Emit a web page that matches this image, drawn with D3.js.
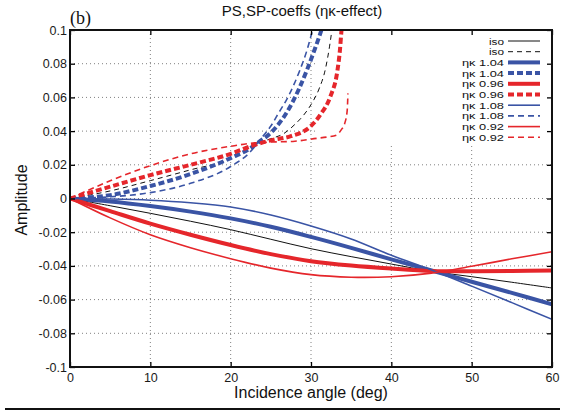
<!DOCTYPE html>
<html>
<head>
<meta charset="utf-8">
<script src="https://cdn.jsdelivr.net/npm/d3@7"></script>
<style>
  body { margin: 0; background: #fff; }
  svg { display: block; font-family: "Liberation Sans", Arial, sans-serif; }
</style>
</head>
<body>
<svg id="chart" width="565" height="412"></svg>
<script>
// angles for the solid (PS) curves, deg
const solidAngles = [0, 5, 10, 15, 20, 25, 30, 35, 40, 45, 50, 55, 60];

const isoSolid     = [0, -0.0043, -0.0088, -0.0135, -0.0185, -0.0242, -0.0298, -0.0345, -0.0389, -0.0432, -0.0464, -0.0497, -0.0531];
const eta104Solid  = [0, -0.0018, -0.0045, -0.0078, -0.0118, -0.0168, -0.0228, -0.0293, -0.0361, -0.0427, -0.0494, -0.0560, -0.0628];
const eta096Solid  = [0, -0.0075, -0.0149, -0.0215, -0.0276, -0.0330, -0.0372, -0.0398, -0.0416, -0.0430, -0.0432, -0.0430, -0.0428];
const eta108Solid  = [0, -0.0003, -0.0010, -0.0025, -0.0050, -0.0098, -0.0163, -0.0240, -0.0337, -0.0424, -0.0520, -0.0618, -0.0717];
const eta092Solid  = [0, -0.0115, -0.0215, -0.0292, -0.0357, -0.0413, -0.0452, -0.0467, -0.0464, -0.0443, -0.0402, -0.0358, -0.0316];

// dashed (SP) curves, each with its own angles since they blow up near 30 deg
const isoDashAngles    = [0, 5, 10, 15, 20, 23.5, 25, 26.6, 28, 29, 30.1, 31, 31.8, 32.3, 32.6, 32.8];
const isoDash          = [0, 0.0045, 0.0106, 0.017, 0.0235, 0.033, 0.0355, 0.0385, 0.044, 0.049, 0.0565, 0.065, 0.077, 0.09, 0.1, 0.108];
const eta104DashAngles = [0, 5, 10, 15, 20, 22.5, 23.5, 25, 27.4, 28.5, 29.5, 30.5, 31.3, 31.8];
const eta104Dash       = [0, 0.002, 0.0074, 0.0145, 0.024, 0.03, 0.0335, 0.039, 0.0545, 0.065, 0.0763, 0.089, 0.1, 0.108];
const eta096DashAngles = [0, 5, 10, 15, 20, 22.5, 25, 27.5, 29.9, 31.2, 32.4, 33.3, 33.6, 33.8, 33.9];
const eta096Dash       = [0, 0.007, 0.0139, 0.02, 0.0265, 0.031, 0.0345, 0.037, 0.0426, 0.05, 0.0604, 0.0763, 0.088, 0.1, 0.105];
const eta108DashAngles = [0, 5, 10, 15, 20, 22.5, 23.5, 25, 26, 27, 28, 28.6, 29.5, 30.2, 30.8];
const eta108Dash       = [0, 0.001, 0.0035, 0.009, 0.019, 0.028, 0.034, 0.043, 0.051, 0.059, 0.069, 0.076, 0.088, 0.1, 0.11];
const eta092DashAngles = [0, 5, 10, 15, 20, 23, 25, 28, 30.7, 32, 33.2, 33.8, 34.2, 34.5, 34.6];
const eta092Dash       = [0, 0.0105, 0.0195, 0.0265, 0.031, 0.033, 0.0335, 0.034, 0.0357, 0.0365, 0.0377, 0.041, 0.0446, 0.052, 0.0624];

const xTicks = [0, 10, 20, 30, 40, 50, 60];
const yTicks = [-0.1, -0.08, -0.06, -0.04, -0.02, 0, 0.02, 0.04, 0.06, 0.08, 0.1];

const BLUE = "#3a54a5";
const RED = "#e5262b";

function zip(xs, ys) {
    return xs.map((x, i) => [x, ys[i]]);
}

// legend order = draw order
const series = [
    { label: "iso",     pts: zip(solidAngles, isoSolid),           color: "#111", width: 1,   dash: null,  smooth: true },
    { label: "iso",     pts: zip(isoDashAngles, isoDash),          color: "#111", width: 1,   dash: "5,4" },
    { label: "ηκ 1.04", pts: zip(solidAngles, eta104Solid),        color: BLUE,   width: 4,   dash: null,  smooth: true },
    { label: "ηκ 1.04", pts: zip(eta104DashAngles, eta104Dash),    color: BLUE,   width: 4,   dash: "6,3" },
    { label: "ηκ 0.96", pts: zip(solidAngles, eta096Solid),        color: RED,    width: 4,   dash: null,  smooth: true },
    { label: "ηκ 0.96", pts: zip(eta096DashAngles, eta096Dash),    color: RED,    width: 4,   dash: "6,3" },
    { label: "ηκ 1.08", pts: zip(solidAngles, eta108Solid),        color: BLUE,   width: 1.6, dash: null,  smooth: true },
    { label: "ηκ 1.08", pts: zip(eta108DashAngles, eta108Dash),    color: BLUE,   width: 1.6, dash: "6,4" },
    { label: "ηκ 0.92", pts: zip(solidAngles, eta092Solid),        color: RED,    width: 1.6, dash: null,  smooth: true },
    { label: "ηκ 0.92", pts: zip(eta092DashAngles, eta092Dash),    color: RED,    width: 1.6, dash: "6,4" }
];

function drawChart() {
    const left = 70, right = 552, top = 30, bottom = 367;
    const svg = d3.select("#chart");

    const x = d3.scaleLinear().domain([0, 60]).range([left, right]);
    const y = d3.scaleLinear().domain([-0.1, 0.1]).range([bottom, top]);

    const fmt = d => String(+d.toFixed(2));

    //сетка
    const grid = svg.append("g")
        .attr("stroke", "#808080")
        .attr("stroke-width", 1)
        .attr("stroke-dasharray", "1,3");
    grid.selectAll(".vg")
        .data(xTicks.slice(1, -1))
        .enter().append("line")
        .attr("x1", d => x(d)).attr("x2", d => x(d))
        .attr("y1", top).attr("y2", bottom);
    grid.selectAll(".hg")
        .data(yTicks.slice(1, -1))
        .enter().append("line")
        .attr("x1", left).attr("x2", right)
        .attr("y1", d => y(d)).attr("y2", d => y(d));

    // opaque key area hides the grid
    svg.append("rect")
        .attr("x", 318).attr("y", top + 1)
        .attr("width", right - 319).attr("height", 114)
        .attr("fill", "#fff");

    //кривые
    svg.append("clipPath").attr("id", "plot-clip")
        .append("rect")
        .attr("x", left).attr("y", top)
        .attr("width", right - left).attr("height", bottom - top);

    const lineSmooth = d3.line()
        .x(d => x(d[0]))
        .y(d => y(d[1]))
        .curve(d3.curveCatmullRom.alpha(0.5));
    const lineSteep = d3.line()
        .x(d => x(d[0]))
        .y(d => y(d[1]))
        .curve(d3.curveMonotoneX);

    svg.append("g")
        .attr("clip-path", "url(#plot-clip)")
        .selectAll("path")
        .data(series)
        .enter().append("path")
        .attr("d", d => d.smooth ? lineSmooth(d.pts) : lineSteep(d.pts))
        .attr("fill", "none")
        .attr("stroke", d => d.color)
        .attr("stroke-width", d => d.width)
        .attr("stroke-dasharray", d => d.dash);

    //оси
    const axisStyle = g => {
        g.select(".domain").remove();
        g.selectAll("line").attr("stroke", "#000").attr("stroke-width", 1.3);
        g.selectAll("text")
            .style("font-size", "12.5px")
            .style("fill", "#1a1a1a")
            .style("font-family", "'Liberation Sans', Arial, sans-serif");
    };

    svg.append("g")
        .attr("transform", `translate(${left},0)`)
        .call(d3.axisLeft(y).tickValues(yTicks).tickSize(-5).tickPadding(3).tickFormat(fmt))
        .call(axisStyle);

    svg.append("g")
        .attr("transform", `translate(${right},0)`)
        .call(d3.axisRight(y).tickValues(yTicks).tickSize(-5).tickFormat(""))
        .call(axisStyle);

    svg.append("g")
        .attr("transform", `translate(0,${bottom})`)
        .call(d3.axisBottom(x).tickValues(xTicks).tickSize(-5).tickPadding(6).tickFormat(fmt))
        .call(axisStyle);

    svg.append("g")
        .attr("transform", `translate(0,${top})`)
        .call(d3.axisTop(x).tickValues(xTicks).tickSize(-5).tickFormat(""))
        .call(axisStyle);

    // рамка
    svg.append("rect")
        .attr("x", left).attr("y", top)
        .attr("width", right - left).attr("height", bottom - top)
        .attr("fill", "none")
        .attr("stroke", "#111")
        .attr("stroke-width", 2);

    //легенда (tight rows, so a small font stretched to the original width)
    const key = svg.append("g");
    const rowY = i => 41 + i * 10.7;
    key.selectAll("text")
        .data(series)
        .enter().append("text")
        .attr("x", 504)
        .attr("y", (d, i) => rowY(i))
        .attr("dy", "0.37em")
        .attr("text-anchor", "end")
        .attr("textLength", d => d.label === "iso" ? 15 : 42)
        .attr("lengthAdjust", "spacingAndGlyphs")
        .style("font-size", "9.6px")
        .style("fill", "#111")
        .text(d => d.label);
    key.selectAll("line")
        .data(series)
        .enter().append("line")
        .attr("x1", 508).attr("x2", 540)
        .attr("y1", (d, i) => rowY(i)).attr("y2", (d, i) => rowY(i))
        .attr("stroke", d => d.color)
        .attr("stroke-width", d => d.width)
        .attr("stroke-dasharray", d => d.dash);

    //подписи
    svg.append("text")
        .attr("x", 302).attr("y", 16)
        .attr("text-anchor", "middle")
        .style("font-size", "15px")
        .style("fill", "#111")
        .text("PS,SP-coeffs (ηκ-effect)");

    svg.append("text")
        .attr("x", 70).attr("y", 24)
        .style("font-family", "'Liberation Serif', 'Times New Roman', serif")
        .style("font-size", "18px")
        .style("fill", "#111")
        .text("(b)");

    svg.append("text")
        .attr("x", 311).attr("y", 398)
        .attr("text-anchor", "middle")
        .style("font-size", "16px")
        .style("fill", "#111")
        .text("Incidence angle (deg)");

    svg.append("text")
        .attr("transform", "translate(27,200) rotate(-90)")
        .attr("text-anchor", "middle")
        .style("font-size", "16px")
        .style("fill", "#111")
        .text("Amplitude");

    // нижняя черта
    svg.append("line")
        .attr("x1", 5).attr("x2", 560)
        .attr("y1", 409).attr("y2", 409)
        .attr("stroke", "#111")
        .attr("stroke-width", 2);
}

drawChart();
</script>
</body>
</html>
